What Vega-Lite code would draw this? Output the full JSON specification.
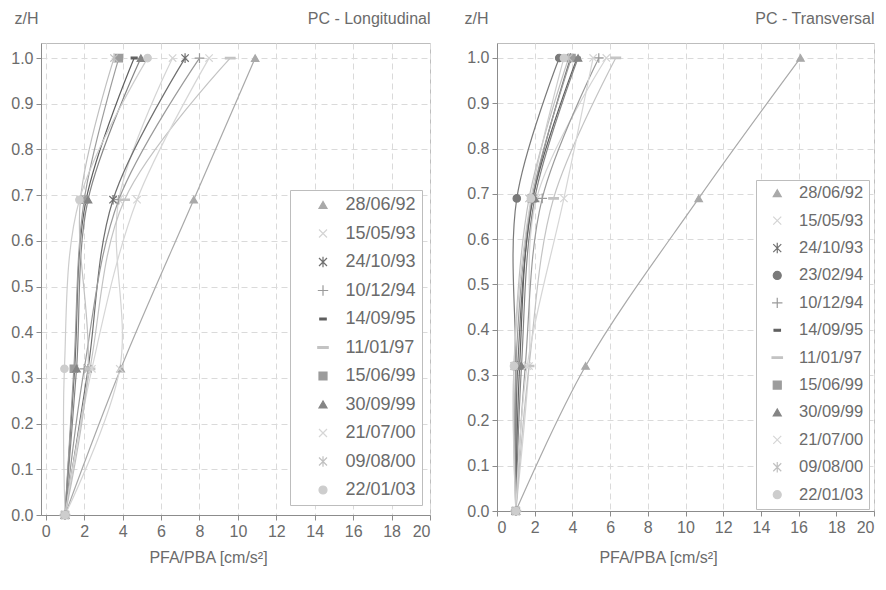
{
  "$schema": "https://vega.github.io/schema/vega-lite/v6.json",
  "padding": {"left": 10, "top": 9, "right": 0, "bottom": 0},
  "background": "white",
  "datasets": {
    "L": [
      {"s":"28/06/92","z":0,"x":1},{"s":"28/06/92","z":0.32,"x":3.9},{"s":"28/06/92","z":0.69,"x":7.7},{"s":"28/06/92","z":1,"x":10.9},
      {"s":"15/05/93","z":0,"x":1},{"s":"15/05/93","z":0.32,"x":3.85},{"s":"15/05/93","z":0.69,"x":3.8},{"s":"15/05/93","z":1,"x":6.6},
      {"s":"24/10/93","z":0,"x":1},{"s":"24/10/93","z":0.32,"x":2.2},{"s":"24/10/93","z":0.69,"x":3.5},{"s":"24/10/93","z":1,"x":7.25},
      {"s":"10/12/94","z":0,"x":1},{"s":"10/12/94","z":0.32,"x":2.0},{"s":"10/12/94","z":0.69,"x":3.8},{"s":"10/12/94","z":1,"x":8.0},
      {"s":"14/09/95","z":0,"x":1},{"s":"14/09/95","z":0.32,"x":1.5},{"s":"14/09/95","z":0.69,"x":2.1},{"s":"14/09/95","z":1,"x":4.6},
      {"s":"11/01/97","z":0,"x":1},{"s":"11/01/97","z":0.32,"x":2.3},{"s":"11/01/97","z":0.69,"x":4.1},{"s":"11/01/97","z":1,"x":9.6},
      {"s":"15/06/99","z":0,"x":1},{"s":"15/06/99","z":0.32,"x":1.46},{"s":"15/06/99","z":0.69,"x":2.0},{"s":"15/06/99","z":1,"x":3.8},
      {"s":"30/09/99","z":0,"x":1},{"s":"30/09/99","z":0.32,"x":1.6},{"s":"30/09/99","z":0.69,"x":2.2},{"s":"30/09/99","z":1,"x":4.95},
      {"s":"21/07/00","z":0,"x":1},{"s":"21/07/00","z":0.32,"x":2.4},{"s":"21/07/00","z":0.69,"x":4.75},{"s":"21/07/00","z":1,"x":8.5},
      {"s":"09/08/00","z":0,"x":1},{"s":"09/08/00","z":0.32,"x":2.2},{"s":"09/08/00","z":0.69,"x":1.8},{"s":"09/08/00","z":1,"x":3.55},
      {"s":"22/01/03","z":0,"x":1},{"s":"22/01/03","z":0.32,"x":0.97},{"s":"22/01/03","z":0.69,"x":1.75},{"s":"22/01/03","z":1,"x":5.3}
    ],
    "T": [
      {"s":"28/06/92","z":0,"x":1},{"s":"28/06/92","z":0.32,"x":4.7},{"s":"28/06/92","z":0.69,"x":10.7},{"s":"28/06/92","z":1,"x":16.1},
      {"s":"15/05/93","z":0,"x":1},{"s":"15/05/93","z":0.32,"x":1.7},{"s":"15/05/93","z":0.69,"x":2.1},{"s":"15/05/93","z":1,"x":5.8},
      {"s":"24/10/93","z":0,"x":1},{"s":"24/10/93","z":0.32,"x":1.1},{"s":"24/10/93","z":0.69,"x":1.9},{"s":"24/10/93","z":1,"x":3.9},
      {"s":"23/02/94","z":0,"x":1},{"s":"23/02/94","z":0.32,"x":1.0},{"s":"23/02/94","z":0.69,"x":1.05},{"s":"23/02/94","z":1,"x":3.3},
      {"s":"10/12/94","z":0,"x":1},{"s":"10/12/94","z":0.32,"x":1.5},{"s":"10/12/94","z":0.69,"x":2.4},{"s":"10/12/94","z":1,"x":5.4},
      {"s":"14/09/95","z":0,"x":1},{"s":"14/09/95","z":0.32,"x":1.2},{"s":"14/09/95","z":0.69,"x":1.9},{"s":"14/09/95","z":1,"x":4.25},
      {"s":"11/01/97","z":0,"x":1},{"s":"11/01/97","z":0.32,"x":1.7},{"s":"11/01/97","z":0.69,"x":3.0},{"s":"11/01/97","z":1,"x":6.3},
      {"s":"15/06/99","z":0,"x":1},{"s":"15/06/99","z":0.32,"x":1.0},{"s":"15/06/99","z":0.69,"x":1.85},{"s":"15/06/99","z":1,"x":3.95},
      {"s":"30/09/99","z":0,"x":1},{"s":"30/09/99","z":0.32,"x":1.3},{"s":"30/09/99","z":0.69,"x":2.0},{"s":"30/09/99","z":1,"x":4.3},
      {"s":"21/07/00","z":0,"x":1},{"s":"21/07/00","z":0.32,"x":1.6},{"s":"21/07/00","z":0.69,"x":3.55},{"s":"21/07/00","z":1,"x":5.1},
      {"s":"09/08/00","z":0,"x":1},{"s":"09/08/00","z":0.32,"x":0.9},{"s":"09/08/00","z":0.69,"x":1.7},{"s":"09/08/00","z":1,"x":3.8},
      {"s":"22/01/03","z":0,"x":1},{"s":"22/01/03","z":0.32,"x":0.9},{"s":"22/01/03","z":0.69,"x":1.8},{"s":"22/01/03","z":1,"x":3.55}
    ]
  },
  "spacing": 67,
  "bounds": "flush",
  "resolve": {"scale": {"x": "independent", "y": "independent", "color": "independent", "shape": "independent", "stroke": "independent"}},
  "hconcat": [
    {
      "width": 389,
      "height": 472,
      "title": {"text": "PC - Longitudinal", "anchor": "end", "offset": 0, "dy": 33, "baseline": "bottom"},
      "data": {"name": "L"},
      "encoding": {
        "x": {"field": "x", "type": "quantitative", "scale": {"domain": [-0.25, 20], "nice": false, "zero": false},
              "axis": {"values": [0,2,4,6,8,10,12,14,16,18,20], "title": "PFA/PBA [cm/s²]", "titleX": 167, "titleY": 42, "titleBaseline": "middle", "titleAlign": "center"}},
        "y": {"field": "z", "type": "quantitative", "scale": {"domain": [0, 1.033], "nice": false},
              "axis": {"values": [0,0.1,0.2,0.3,0.4,0.5,0.6,0.7,0.8,0.9,1.0], "format": ".1f", "title": "z/H", "titleAngle": 0, "titleX": -15, "titleY": -25, "titleAlign": "center", "titleBaseline": "middle"}}
      },
      "layer": [
        {
          "mark": {"type": "line", "interpolate": "catmull-rom", "strokeWidth": 1.2},
          "encoding": {
            "color": {"field": "s", "type": "nominal",
              "scale": {"domain": ["28/06/92","15/05/93","24/10/93","10/12/94","14/09/95","11/01/97","15/06/99","30/09/99","21/07/00","09/08/00","22/01/03"],
                        "range": ["#a9a9a9","#d4d4d4","#6f6f6f","#9a9a9a","#5f5f5f","#c3c3c3","#9c9c9c","#858585","#d6d6d6","#c0c0c0","#cdcdcd"]},
              "legend": {"orient": "none", "legendX": 249, "legendY": 147, "title": null, "padding": 6, "symbolOffset": 18, "labelOffset": 13.5, "labelFontSize": 18, "rowPadding": 10.5}},
            "order": {"field": "z", "type": "quantitative"}
          }
        },
        {
          "mark": {"type": "point", "filled": true, "size": 55, "strokeWidth": 1.2, "opacity": 1},
          "encoding": {
            "color": {"field": "s", "type": "nominal",
              "scale": {"domain": ["28/06/92","15/05/93","24/10/93","10/12/94","14/09/95","11/01/97","15/06/99","30/09/99","21/07/00","09/08/00","22/01/03"],
                        "range": ["#a9a9a9","#d4d4d4","#6f6f6f","#9a9a9a","#5f5f5f","#c3c3c3","#9c9c9c","#858585","#d6d6d6","#c0c0c0","#cdcdcd"]},
              "legend": {"orient": "none", "legendX": 249, "legendY": 147, "title": null, "padding": 6, "symbolOffset": 18, "labelOffset": 13.5, "labelFontSize": 18, "rowPadding": 10.5}},
            "stroke": {"field": "s", "type": "nominal",
              "scale": {"domain": ["28/06/92","15/05/93","24/10/93","10/12/94","14/09/95","11/01/97","15/06/99","30/09/99","21/07/00","09/08/00","22/01/03"],
                        "range": ["#a9a9a9","#d4d4d4","#6f6f6f","#9a9a9a","#5f5f5f","#c3c3c3","#9c9c9c","#858585","#d6d6d6","#c0c0c0","#cdcdcd"]},
              "legend": {"orient": "none", "legendX": 249, "legendY": 147, "title": null, "padding": 6, "symbolOffset": 18, "labelOffset": 13.5, "labelFontSize": 18, "rowPadding": 10.5}},
            "shape": {"field": "s", "type": "nominal",
              "scale": {"domain": ["28/06/92","15/05/93","24/10/93","10/12/94","14/09/95","11/01/97","15/06/99","30/09/99","21/07/00","09/08/00","22/01/03"],
                        "range": ["triangle-up","M-1,-1L1,1M-1,1L1,-1","M-1,-1L1,1M-1,1L1,-1M0,-1.3V1.3","M-1.3,0H1.3M0,-1.3V1.3","M-0.8,-0.25H0.8V0.25H-0.8Z","M-1.3,-0.2H1.3V0.2H-1.3Z","square","triangle-up","M-1,-1L1,1M-1,1L1,-1","M-1,-1L1,1M-1,1L1,-1M0,-1.3V1.3","circle"]},
              "legend": {"orient": "none", "legendX": 249, "legendY": 147, "title": null, "padding": 6, "symbolOffset": 18, "labelOffset": 13.5, "labelFontSize": 18, "rowPadding": 10.5}}
          }
        }
      ]
    },
    {
      "width": 377,
      "height": 468,
      "title": {"text": "PC - Transversal", "anchor": "end", "offset": 0, "dy": 33, "baseline": "bottom"},
      "data": {"name": "T"},
      "encoding": {
        "x": {"field": "x", "type": "quantitative", "scale": {"domain": [0, 20], "nice": false, "zero": false},
              "axis": {"values": [0,2,4,6,8,10,12,14,16,18,20], "title": "PFA/PBA [cm/s²]", "titleX": 161, "titleY": 46, "titleBaseline": "middle", "titleAlign": "center"}},
        "y": {"field": "z", "type": "quantitative", "scale": {"domain": [0, 1.033], "nice": false},
              "axis": {"values": [0,0.1,0.2,0.3,0.4,0.5,0.6,0.7,0.8,0.9,1.0], "format": ".1f", "title": "z/H", "titleAngle": 0, "titleX": -21, "titleY": -25, "titleAlign": "center", "titleBaseline": "middle"}}
      },
      "layer": [
        {
          "mark": {"type": "line", "interpolate": "catmull-rom", "strokeWidth": 1.2},
          "encoding": {
            "color": {"field": "s", "type": "nominal",
              "scale": {"domain": ["28/06/92","15/05/93","24/10/93","23/02/94","10/12/94","14/09/95","11/01/97","15/06/99","30/09/99","21/07/00","09/08/00","22/01/03"],
                        "range": ["#a9a9a9","#d4d4d4","#6f6f6f","#7a7a7a","#9a9a9a","#5f5f5f","#c3c3c3","#9c9c9c","#858585","#d6d6d6","#c0c0c0","#cdcdcd"]},
              "legend": {"orient": "none", "legendX": 259, "legendY": 137, "title": null, "padding": 5, "symbolOffset": 8, "labelOffset": 13.5, "labelFontSize": 16.5, "rowPadding": 10.4}},
            "order": {"field": "z", "type": "quantitative"}
          }
        },
        {
          "mark": {"type": "point", "filled": true, "size": 55, "strokeWidth": 1.2, "opacity": 1},
          "encoding": {
            "color": {"field": "s", "type": "nominal",
              "scale": {"domain": ["28/06/92","15/05/93","24/10/93","23/02/94","10/12/94","14/09/95","11/01/97","15/06/99","30/09/99","21/07/00","09/08/00","22/01/03"],
                        "range": ["#a9a9a9","#d4d4d4","#6f6f6f","#7a7a7a","#9a9a9a","#5f5f5f","#c3c3c3","#9c9c9c","#858585","#d6d6d6","#c0c0c0","#cdcdcd"]},
              "legend": {"orient": "none", "legendX": 259, "legendY": 137, "title": null, "padding": 5, "symbolOffset": 8, "labelOffset": 13.5, "labelFontSize": 16.5, "rowPadding": 10.4}},
            "stroke": {"field": "s", "type": "nominal",
              "scale": {"domain": ["28/06/92","15/05/93","24/10/93","23/02/94","10/12/94","14/09/95","11/01/97","15/06/99","30/09/99","21/07/00","09/08/00","22/01/03"],
                        "range": ["#a9a9a9","#d4d4d4","#6f6f6f","#7a7a7a","#9a9a9a","#5f5f5f","#c3c3c3","#9c9c9c","#858585","#d6d6d6","#c0c0c0","#cdcdcd"]},
              "legend": {"orient": "none", "legendX": 259, "legendY": 137, "title": null, "padding": 5, "symbolOffset": 8, "labelOffset": 13.5, "labelFontSize": 16.5, "rowPadding": 10.4}},
            "shape": {"field": "s", "type": "nominal",
              "scale": {"domain": ["28/06/92","15/05/93","24/10/93","23/02/94","10/12/94","14/09/95","11/01/97","15/06/99","30/09/99","21/07/00","09/08/00","22/01/03"],
                        "range": ["triangle-up","M-1,-1L1,1M-1,1L1,-1","M-1,-1L1,1M-1,1L1,-1M0,-1.3V1.3","circle","M-1.3,0H1.3M0,-1.3V1.3","M-0.8,-0.25H0.8V0.25H-0.8Z","M-1.3,-0.2H1.3V0.2H-1.3Z","square","triangle-up","M-1,-1L1,1M-1,1L1,-1","M-1,-1L1,1M-1,1L1,-1M0,-1.3V1.3","circle"]},
              "legend": {"orient": "none", "legendX": 259, "legendY": 137, "title": null, "padding": 5, "symbolOffset": 8, "labelOffset": 13.5, "labelFontSize": 16.5, "rowPadding": 10.4}}
          }
        }
      ]
    }
  ],
  "config": {
    "font": "Liberation Sans",
    "view": {"stroke": "#bdbdbd"},
    "title": {"fontSize": 16, "fontWeight": "normal", "color": "#6b6b6b", "font": "Liberation Sans"},
    "axis": {"labelFont": "Liberation Sans", "labelFontSize": 16, "labelColor": "#6b6b6b", "titleFont": "Liberation Sans", "titleFontSize": 16, "titleColor": "#6b6b6b", "titleFontWeight": "normal",
             "domainColor": "#8c8c8c", "tickColor": "#8c8c8c", "tickSize": 5, "labelPadding": 3, "gridColor": "#dadada", "gridDash": [6, 4], "gridWidth": 1},
    "legend": {"strokeColor": "#bdbdbd", "fillColor": "white", "labelFont": "Liberation Sans", "labelColor": "#6b6b6b",
               "symbolSize": 64, "symbolStrokeWidth": 1.2}
  }
}
